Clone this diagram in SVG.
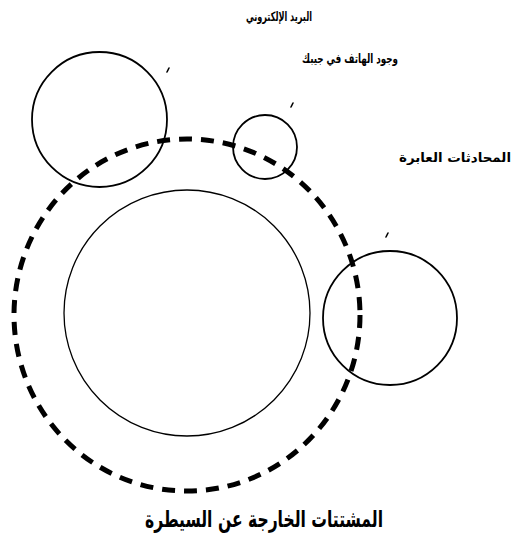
<svg xmlns="http://www.w3.org/2000/svg" width="528" height="538" viewBox="0 0 528 538">
<style>
  .c { fill: none; stroke: #000; stroke-width: 1.8; }
  .inner { fill: none; stroke: #000; stroke-width: 1.3; }
  .dash { fill: none; stroke: #000; stroke-width: 5; stroke-dasharray: 13 9; }
  .tick { stroke: #000; stroke-width: 1.6; stroke-linecap: round; }
  .lbl { font-family: "DejaVu Sans", sans-serif; font-weight: bold; font-size: 13px; fill: #000; text-anchor: middle; }
  .title { font-family: "DejaVu Sans", sans-serif; font-weight: bold; font-size: 23px; fill: #000; text-anchor: middle; }
</style>
<rect width="528" height="538" fill="#fff"/>
<g id="control-zone">
  <ellipse class="dash" cx="187" cy="315" rx="173" ry="176"/>
</g>
<g id="core">
  <circle class="inner" cx="187" cy="313" r="123"/>
</g>
<g id="email">
  <circle class="c" cx="99.5" cy="119.5" r="67.5"/>
  <line class="tick" x1="167" y1="72" x2="169" y2="68"/>
  <text class="lbl" x="279" y="21" direction="rtl" textLength="66" lengthAdjust="spacingAndGlyphs">البريد الإلكتروني</text>
</g>
<g id="phone">
  <circle class="c" cx="265" cy="147" r="32"/>
  <line class="tick" x1="291" y1="107" x2="293" y2="103"/>
  <text class="lbl" x="350" y="63" direction="rtl" textLength="96" lengthAdjust="spacingAndGlyphs">وجود الهاتف في جيبك</text>
</g>
<g id="conversations">
  <circle class="c" cx="390" cy="318" r="67"/>
  <line class="tick" x1="386" y1="237" x2="388" y2="233"/>
  <text class="lbl" x="455" y="162" direction="rtl" textLength="112" lengthAdjust="spacingAndGlyphs">المحادثات العابرة</text>
</g>
<g id="title">
  <text class="title" x="264" y="527" direction="rtl" textLength="238" lengthAdjust="spacingAndGlyphs">المشتتات الخارجة عن السيطرة</text>
</g>
<g id="connectors"></g>
</svg>
